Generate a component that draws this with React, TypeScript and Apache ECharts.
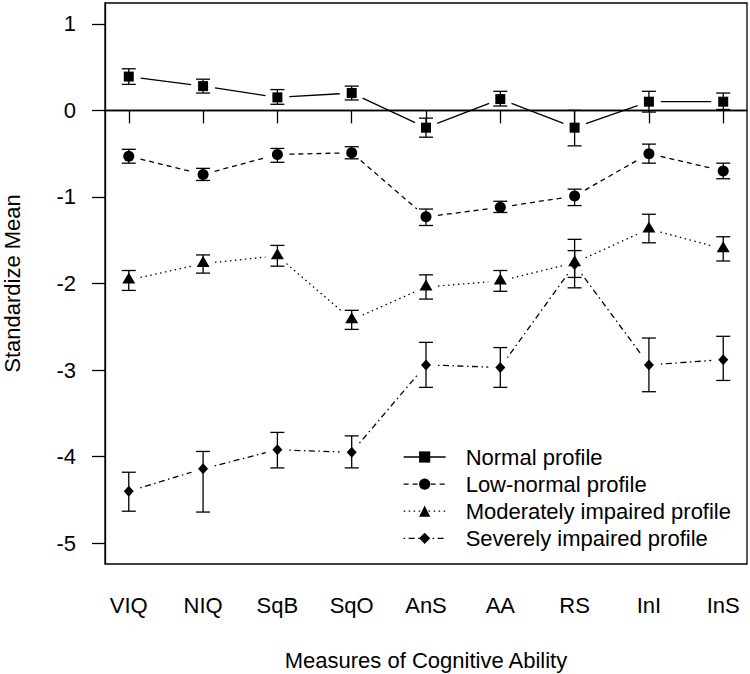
import React, { useEffect, useRef } from "react";
import * as echarts from "echarts";

const categories = ["VIQ", "NIQ", "SqB", "SqO", "AnS", "AA", "RS", "InI", "InS"];
const yTickValues = [-5, -4, -3, -2, -1, 0, 1];
const seriesNames = [
  "Normal profile",
  "Low-normal profile",
  "Moderately impaired profile",
  "Severely impaired profile",
];

const normalMean = [0.39, 0.28, 0.15, 0.2, -0.2, 0.13, -0.2, 0.1, 0.1];
const normalLow = [0.3, 0.2, 0.07, 0.12, -0.31, 0.05, -0.41, -0.02, 0.01];
const normalHigh = [0.48, 0.36, 0.24, 0.28, -0.09, 0.22, 0.0, 0.22, 0.2];

const lowNormalMean = [-0.53, -0.74, -0.51, -0.49, -1.23, -1.12, -0.99, -0.5, -0.7];
const lowNormalLow = [-0.61, -0.81, -0.6, -0.56, -1.33, -1.18, -1.1, -0.61, -0.79];
const lowNormalHigh = [-0.45, -0.67, -0.44, -0.42, -1.14, -1.05, -0.91, -0.39, -0.61];

const moderateMean = [-1.96, -1.77, -1.68, -2.42, -2.04, -1.97, -1.76, -1.37, -1.6];
const moderateLow = [-2.08, -1.88, -1.8, -2.53, -2.18, -2.09, -1.93, -1.53, -1.74];
const moderateHigh = [-1.85, -1.67, -1.56, -2.31, -1.9, -1.85, -1.62, -1.2, -1.46];

const severeMean = [-4.4, -4.14, -3.92, -3.95, -2.94, -2.97, -1.78, -2.94, -2.88];
const severeLow = [-4.63, -4.64, -4.13, -4.13, -3.2, -3.2, -2.05, -3.25, -3.12];
const severeHigh = [-4.18, -3.94, -3.72, -3.76, -2.68, -2.74, -1.49, -2.63, -2.61];

const FONT = "'Liberation Sans', Arial, Helvetica, sans-serif";
const INK = "#000";
const LW = 1.3;

export default function App() {
  const ref = useRef<HTMLDivElement>(null);

  useEffect(() => {
    if (!ref.current) return;
    const chart = echarts.init(ref.current, null, { renderer: "svg" });

    const groups = [
      { name: seriesNames[0], mean: normalMean, low: normalLow, high: normalHigh, symbol: "rect", size: 10, offset: [0, 0], dash: [] as number[] },
      { name: seriesNames[1], mean: lowNormalMean, low: lowNormalLow, high: lowNormalHigh, symbol: "circle", size: 11, offset: [0, 0], dash: [5, 4] },
      { name: seriesNames[2], mean: moderateMean, low: moderateLow, high: moderateHigh, symbol: "triangle", size: [13, 11], offset: [0, -2], dash: [1.5, 3.5] },
      { name: seriesNames[3], mean: severeMean, low: severeLow, high: severeHigh, symbol: "diamond", size: [10, 11], offset: [0, 0], dash: [1.5, 3.5, 6, 3.5] },
    ];

    const series: any[] = [];
    const GAP = 12;

    groups.forEach((g, gi) => {
      // connecting segments with gaps (R type="b")
      const segs = g.mean.slice(0, -1).map((v, i) => [i + 1, v, i + 2, g.mean[i + 1]]);
      series.push({
        type: "custom",
        name: g.name + "-seg",
        data: segs,
        silent: true,
        z: 2,
        encode: { x: [0, 2], y: [1, 3] },
        renderItem: (params: any, api: any) => {
          const a = api.coord([api.value(0), api.value(1)]);
          const b = api.coord([api.value(2), api.value(3)]);
          const dx = b[0] - a[0];
          const dy = b[1] - a[1];
          const len = Math.sqrt(dx * dx + dy * dy);
          if (len <= 2 * GAP) return { type: "group", children: [] };
          const ux = dx / len;
          const uy = dy / len;
          return {
            type: "line",
            shape: { x1: a[0] + ux * GAP, y1: a[1] + uy * GAP, x2: b[0] - ux * GAP, y2: b[1] - uy * GAP },
            style: { stroke: INK, lineWidth: LW, lineDash: g.dash.length ? g.dash : null, fill: null },
          };
        },
      });
      // error bars
      const bars = g.mean.map((v, i) => [i + 1, g.low[i], g.high[i]]);
      series.push({
        type: "custom",
        name: g.name + "-err",
        data: bars,
        silent: true,
        z: 3,
        encode: { x: 0, y: [1, 2] },
        renderItem: (params: any, api: any) => {
          const lo = api.coord([api.value(0), api.value(1)]);
          const hi = api.coord([api.value(0), api.value(2)]);
          const w = 7;
          const st = { stroke: INK, lineWidth: LW, fill: null };
          return {
            type: "group",
            children: [
              { type: "line", shape: { x1: lo[0], y1: lo[1], x2: hi[0], y2: hi[1] }, style: st },
              { type: "line", shape: { x1: lo[0] - w, y1: lo[1], x2: lo[0] + w, y2: lo[1] }, style: st },
              { type: "line", shape: { x1: hi[0] - w, y1: hi[1], x2: hi[0] + w, y2: hi[1] }, style: st },
            ],
          };
        },
      });
      // markers
      const s: any = {
        type: "line",
        name: g.name,
        data: g.mean.map((v, i) => [i + 1, v]),
        symbol: g.symbol,
        symbolSize: g.size,
        symbolOffset: g.offset,
        showSymbol: true,
        itemStyle: { color: INK, borderWidth: 0 },
        lineStyle: { opacity: 0, width: 0 },
        z: 4,
        silent: true,
      };
      if (gi === 0) {
        s.markLine = {
          silent: true,
          symbol: "none",
          label: { show: false },
          lineStyle: { color: INK, width: LW, type: "solid" },
          data: [{ yAxis: 0 }],
        };
      }
      series.push(s);
    });

    const legendData = groups.map((g) => ({
      name: g.name,
      lineStyle: { color: INK, width: LW, opacity: 1, type: g.dash.length ? g.dash : "solid" },
      itemStyle: { color: INK },
    }));

    chart.setOption({
      animation: false,
      backgroundColor: "#fff",
      textStyle: { fontFamily: FONT, color: INK },
      grid: {
        left: 105,
        right: 3,
        top: 3,
        bottom: 110,
        containLabel: false,
        outerBoundsMode: "none",
        show: true,
        borderColor: INK,
        borderWidth: LW,
        backgroundColor: "transparent",
      },
      legend: {
        show: true,
        orient: "vertical",
        left: 398,
        top: 441,
        itemWidth: 42,
        itemHeight: 14,
        itemGap: 5.1,
        data: legendData,
        selectedMode: false,
        textStyle: { fontFamily: FONT, fontSize: 22, color: INK, padding: [0, 0, 0, 15] },
      },
      xAxis: {
        type: "value",
        min: 0.68,
        max: 9.32,
        splitLine: { show: false },
        axisLine: { show: true, lineStyle: { color: INK, width: LW } },
        axisTick: {
          show: true,
          inside: false,
          length: 13,
          customValues: categories.map((c, i) => i + 1),
          lineStyle: { color: INK, width: LW },
        },
        axisLabel: {
          show: true,
          margin: 30,
          fontSize: 22,
          fontFamily: FONT,
          color: INK,
          customValues: categories.map((c, i) => i + 1),
          formatter: (v: number) => categories[Math.round(v) - 1] ?? "",
        },
        name: "Measures of Cognitive Ability",
        nameLocation: "middle",
        nameGap: 85,
        nameTextStyle: { fontSize: 22, fontFamily: FONT, color: INK },
      },
      yAxis: {
        type: "value",
        min: -5.24,
        max: 1.24,
        splitLine: { show: false },
        axisLine: { show: true, lineStyle: { color: INK, width: LW } },
        axisTick: {
          show: true,
          inside: false,
          length: 13,
          customValues: yTickValues,
          lineStyle: { color: INK, width: LW },
        },
        axisLabel: {
          show: true,
          margin: 29,
          fontSize: 22,
          fontFamily: FONT,
          color: INK,
          customValues: yTickValues,
          formatter: (v: number) => String(Math.round(v)),
        },
        name: "Standardize Mean",
        nameLocation: "middle",
        nameGap: 82,
        nameRotate: 90,
        nameTextStyle: { fontSize: 22, fontFamily: FONT, color: INK },
      },
      series,
    });

    return () => chart.dispose();
  }, []);

  return <div ref={ref} style={{ width: 750, height: 674, position: "absolute", left: 0, top: 0 }} />;
}
